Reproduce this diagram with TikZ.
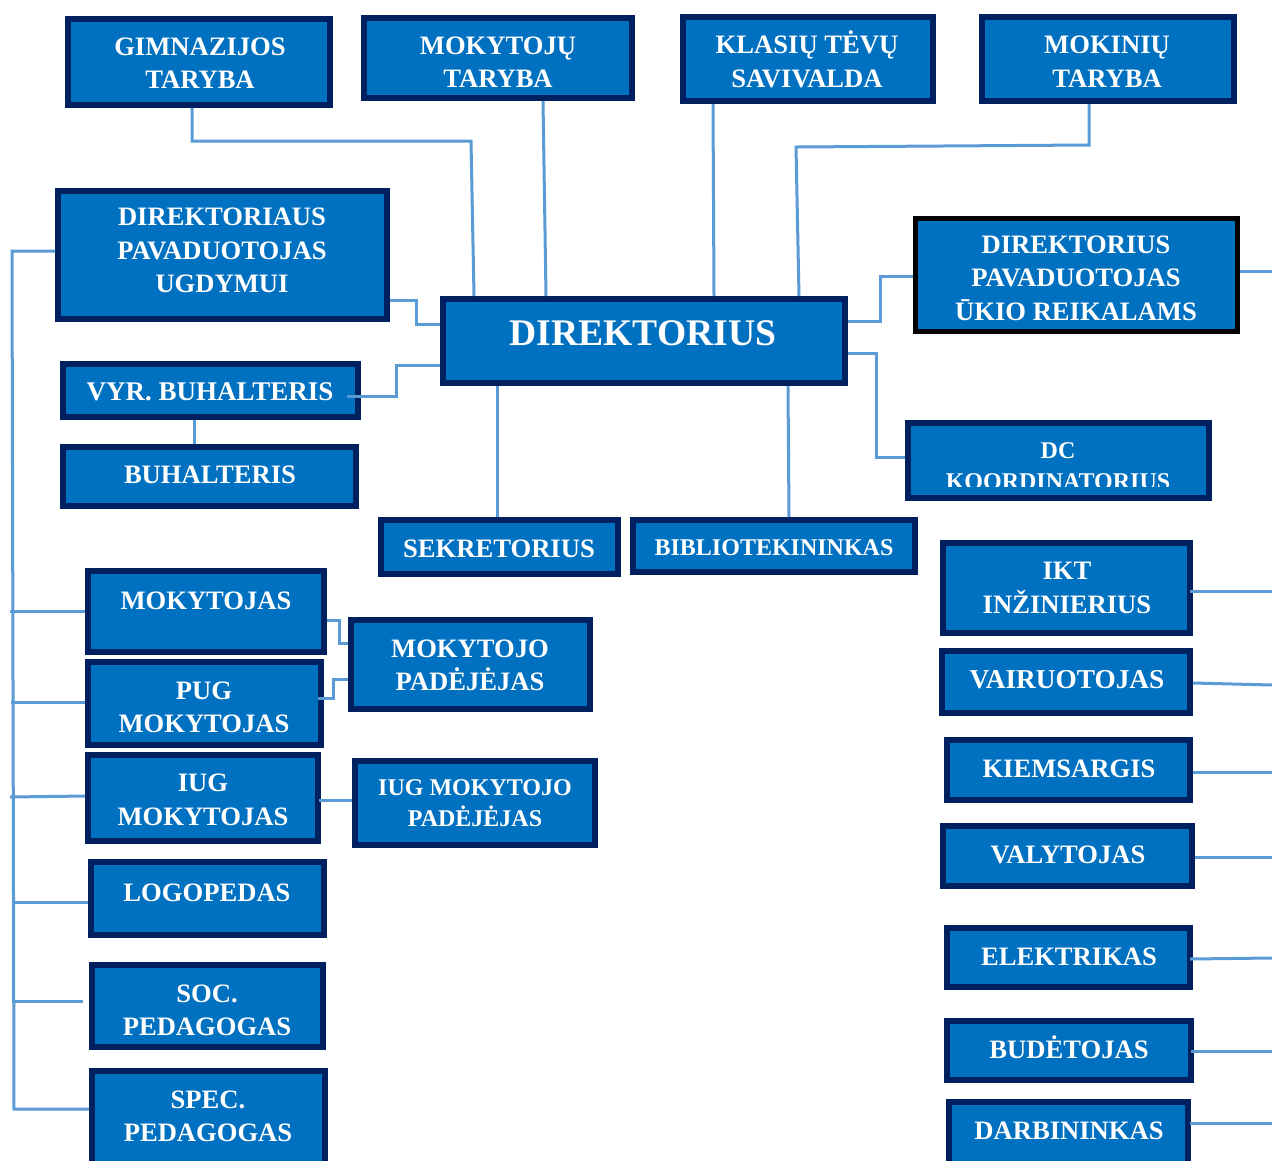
\documentclass[tikz,border=0pt]{standalone}
\usepackage{fontspec}
\setmainfont{Liberation Serif}
\definecolor{boxblue}{HTML}{0070C0}
\definecolor{navy}{HTML}{002060}
\definecolor{linkblue}{HTML}{5B9BD5}
\newcommand\mlines[1]{\begin{tabular}[t]{@{}c@{}}#1\end{tabular}}
\newcommand\mkbox[6]{\node[box,minimum width={(#4)-(#2)-6},minimum height={(#5)-(#3)-6},#6] (#1) at ({((#2)+(#4))/2},{((#3)+(#5))/2}) {};}
\tikzset{
  box/.style={draw=navy, fill=boxblue, line width=6pt, inner sep=0pt},
  lbl/.style={text=white, font=\bfseries\fontsize{26.6}{33.5}\selectfont, inner sep=0pt, anchor=base},
  lblsm/.style={text=white, font=\bfseries\fontsize{24}{31}\selectfont, inner sep=0pt, anchor=base},
  lblbig/.style={text=white, font=\bfseries\fontsize{37.6}{44}\selectfont, inner sep=0pt, anchor=base},
  link/.style={draw=linkblue, line width=3pt},
}
\begin{document}
\begin{tikzpicture}[x=1pt,y=-1pt]
\useasboundingbox (0,0) rectangle (1272,1160);
\fill[white] (0,0) rectangle (1272,1160);
% boxes
\mkbox{gim}{65}{16}{333}{108}{}
\mkbox{mok}{361}{15}{635}{101}{}
\mkbox{kla}{680}{14}{936}{104}{}
\mkbox{mkn}{979}{14}{1237}{104}{}
\mkbox{pu}{55}{188}{390}{322}{}
\mkbox{dir}{440}{296}{848}{386}{}
\mkbox{uk}{912}{215}{1240}{334}{draw=black,line width=5pt}
\mkbox{vyr}{60}{361}{361}{420}{}
\mkbox{buh}{60}{444}{359}{509}{}
\mkbox{dc}{905}{420}{1212}{501}{}
\mkbox{sek}{378}{517}{621}{577}{}
\mkbox{bib}{630}{517}{918}{575}{}
\mkbox{ikt}{940}{540}{1193}{636}{}
\mkbox{vai}{939}{648}{1193}{716}{}
\mkbox{kie}{944}{737}{1193}{803}{}
\mkbox{val}{940}{823}{1195}{889}{}
\mkbox{ele}{944}{925}{1193}{990}{}
\mkbox{bud}{944}{1018}{1194}{1083}{}
\mkbox{dar}{946}{1099}{1191}{1178}{}
\mkbox{mt}{85}{568}{327}{655}{}
\mkbox{pug}{85}{659}{324}{748}{}
\mkbox{iug}{85}{752}{321}{844}{}
\mkbox{log}{88}{859}{327}{938}{}
\mkbox{soc}{89}{962}{326}{1050}{}
\mkbox{spe}{89}{1068}{328}{1178}{}
\mkbox{mp}{348}{617}{593}{712}{}
\mkbox{imp}{352}{758}{598}{848}{}
% labels
\node[lbl] (tgim) at (200,55.3) {\mlines{GIMNAZIJOS\\TARYBA}};
\node[lbl] (tmok) at (498,54.3) {\mlines{MOKYTOJŲ\\TARYBA}};
\node[lbl] (tkla) at (807,53.6) {\mlines{KLASIŲ TĖVŲ\\SAVIVALDA}};
\node[lbl] (tmkn) at (1107,53.6) {\mlines{MOKINIŲ\\TARYBA}};
\node[lbl] (tpu) at (222,225.6) {\mlines{DIREKTORIAUS\\PAVADUOTOJAS\\UGDYMUI}};
\node[lblbig] (tdir) at (643,345.5) {DIREKTORIUS};
\node[lbl] (tuk) at (1076,253) {\mlines{DIREKTORIUS\\PAVADUOTOJAS\\ŪKIO REIKALAMS}};
\node[lbl,font=\bfseries\fontsize{27}{33}\selectfont] (tvyr) at (210,400.5) {VYR. BUHALTERIS};
\node[lbl] (tbuh) at (210,483.6) {BUHALTERIS};
\begin{scope}
\clip (900,415) rectangle (1220,486.5);
\node[lblsm] (tdc) at (1058,458) {\mlines{DC\\KOORDINATORIUS}};
\end{scope}
\node[lbl] (tsek) at (499,557.6) {SEKRETORIUS};
\node[lblsm] (tbib) at (774,555) {BIBLIOTEKININKAS};
\node[lbl] (tikt) at (1067,579.6) {\mlines{IKT\\INŽINIERIUS}};
\node[lbl,font=\bfseries\fontsize{27.3}{33.5}\selectfont] (tvai) at (1067,688.6) {VAIRUOTOJAS};
\node[lbl] (tkie) at (1069,777.6) {KIEMSARGIS};
\node[lbl] (tval) at (1068,863.6) {VALYTOJAS};
\node[lbl] (tele) at (1069,965.6) {ELEKTRIKAS};
\node[lbl] (tbud) at (1069,1058.6) {BUDĖTOJAS};
\node[lbl] (tdar) at (1069,1139.6) {DARBININKAS};
\node[lbl] (tmt) at (206,609) {MOKYTOJAS};
\node[lbl] (tpug) at (204,699.3) {\mlines{PUG\\MOKYTOJAS}};
\node[lbl] (tiug) at (203,791.7) {\mlines{IUG\\MOKYTOJAS}};
\node[lbl] (tlog) at (207,901.7) {LOGOPEDAS};
\node[lbl] (tsoc) at (207,1002.3) {\mlines{SOC.\\PEDAGOGAS}};
\node[lbl] (tspe) at (208,1108.3) {\mlines{SPEC.\\PEDAGOGAS}};
\node[lbl] (tmp) at (470,657) {\mlines{MOKYTOJO\\PADĖJĖJAS}};
\node[lblsm] (timp) at (475,795.7) {\mlines{IUG MOKYTOJO\\PADĖJĖJAS}};
% free ends on the right edge
\coordinate (rUK) at (1272,271);
\coordinate (r1) at (1272,591);
\coordinate (r2) at (1272,685);
\coordinate (r3) at (1272,772);
\coordinate (r4) at (1272,857);
\coordinate (r5) at (1272,958);
\coordinate (r6) at (1272,1051);
\coordinate (r7) at (1272,1123);
% connectors
\draw[link] (gim.south -| 192,0) -- (192,141) -- (471,141) -- (dir.north -| 474,0);
\draw[link] (mok.south -| 543,0) -- (dir.north -| 546,0);
\draw[link] (kla.south -| 713,0) -- (dir.north -| 714,0);
\draw[link] (mkn.south -| 1089,0) -- (1089,145) -- (796,147) -- (dir.north -| 799,0);
\draw[link] (pu.east |- 0,300) -- (416,300) -- (416,324) -- (dir.west |- 0,324);
\draw[link] ([xshift=-14pt]vyr.east |- 0,396) -- (396,396) -- (396,365) -- (dir.west |- 0,365);
\draw[link] (vyr.south -| 194,0) -- (buh.north -| 194,0);
\draw[link] (dir.south -| 497,0) -- (sek.north -| 497,0);
\draw[link] (dir.south -| 788,0) -- (bib.north -| 789,0);
\draw[link] (dir.east |- 0,321) -- (880,321) -- (880,276) -- (uk.west |- 0,276);
\draw[link] (dir.east |- 0,353) -- (876,353) -- (876,457) -- (dc.west |- 0,457);
\draw[link] (uk.east |- 0,271) -- (rUK);
\draw[link] ([xshift=-3pt]ikt.east |- 0,591) -- (r1);
\draw[link] (vai.east |- 0,683) -- (r2);
\draw[link] (kie.east |- 0,772) -- (r3);
\draw[link] (val.east |- 0,857) -- (r4);
\draw[link] ([xshift=-3pt]ele.east |- 0,959) -- (r5);
\draw[link] ([xshift=-3pt]bud.east |- 0,1051) -- (r6);
\draw[link] ([xshift=-1pt]dar.east |- 0,1123) -- (r7);
\draw[link] (pu.west |- 0,251) -- (12,251) -- (14,1109) -- (spe.west |- 0,1109);
\draw[link] (10,611) -- (mt.west |- 0,611);
\draw[link] (11,702) -- (pug.west |- 0,702);
\draw[link] (10,797) -- (iug.west |- 0,796);
\draw[link] (12,902) -- (log.west |- 0,902);
\draw[link] (12,1001) -- ([xshift=-6pt]soc.west |- 0,1001);
\draw[link] (mt.east |- 0,620) -- (339,620) -- (339,643) -- (mp.west |- 0,643);
\draw[link] ([xshift=-6pt]pug.east |- 0,698) -- (333,698) -- (333,679) -- (mp.west |- 0,679);
\draw[link] ([xshift=-2pt]iug.east |- 0,800) -- (imp.west |- 0,800);
\end{tikzpicture}
\end{document}
